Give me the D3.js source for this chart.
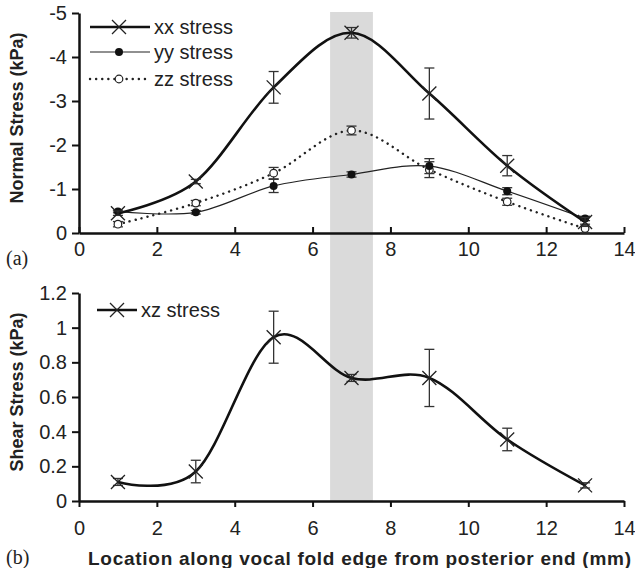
<!DOCTYPE html>
<html>
<head>
<meta charset="utf-8">
<script src="https://cdn.jsdelivr.net/npm/d3@7"></script>
<style>
  html, body { margin: 0; padding: 0; background: #fff; }
  svg { display: block; }
</style>
</head>
<body>
<svg id="chart" width="635" height="568"></svg>
<script>
// ---- Data ----
const positions = [1, 3, 5, 7, 9, 11, 13];
const xxStress = [-0.45, -1.17, -3.31, -4.55, -3.17, -1.53, -0.25];
const xxErr    = [0.05, 0.05, 0.36, 0.12, 0.58, 0.23, 0.10];
const yyStress = [-0.49, -0.47, -1.07, -1.33, -1.52, -0.95, -0.33];
const yyErr    = [0.03, 0.04, 0.15, 0.06, 0.17, 0.08, 0.05];
const zzStress = [-0.20, -0.68, -1.36, -2.33, -1.44, -0.71, -0.10];
const zzErr    = [0.06, 0.06, 0.13, 0.10, 0.18, 0.08, 0.10];
const xzStress = [0.11, 0.17, 0.945, 0.71, 0.71, 0.355, 0.09];
const xzErr    = [0.02, 0.065, 0.15, 0.02, 0.165, 0.065, 0.015];
const xTicks = [0, 2, 4, 6, 8, 10, 12, 14];
const normalTicks = [0, -1, -2, -3, -4, -5];
const shearTicks = [0, 0.2, 0.4, 0.6, 0.8, 1, 1.2];
const shearTickLabels = ["0", "0.2", "0.4", "0.6", "0.8", "1", "1.2"];
const bandRange = [6.45, 7.55];
const legendTop = ["xx stress", "yy stress", "zz stress"];
const legendBottom = ["xz stress"];

const svg = d3.select("#chart");
const FONT = "'Liberation Sans', Arial, Helvetica, sans-serif";

const x = d3.scaleLinear().domain([0, 14]).range([79, 624]);
const yTop = d3.scaleLinear().domain([0, -5]).range([233, 13]);
const yBot = d3.scaleLinear().domain([0, 1.2]).range([501, 293]);

// shaded band
svg.append("rect")
  .attr("x", x(bandRange[0])).attr("y", 12)
  .attr("width", x(bandRange[1]) - x(bandRange[0]))
  .attr("height", 501 - 12)
  .attr("fill", "#dadada");

const curve = d3.curveCardinal.tension(0);

function styleAxis(g) {
  g.select(".domain").attr("stroke", "#111").attr("stroke-width", 2.5);
  g.selectAll(".tick line").attr("stroke", "#111").attr("stroke-width", 2);
  g.selectAll(".tick text").attr("fill", "#222")
    .style("font-family", FONT).style("font-size", "20px");
}

// ---- Top panel axes ----
svg.append("g").attr("transform", "translate(0,233)")
  .call(d3.axisBottom(x).tickValues(xTicks).tickFormat(d => String(d))
    .tickSizeInner(-6).tickSizeOuter(0).tickPadding(9))
  .call(styleAxis);
svg.append("g").attr("transform", "translate(79,0)")
  .call(d3.axisLeft(yTop).tickValues(normalTicks).tickFormat(d => String(d))
    .tickSize(7).tickSizeOuter(0).tickPadding(5))
  .call(styleAxis);

// ---- Bottom panel axes ----
svg.append("g").attr("transform", "translate(0,501)")
  .call(d3.axisBottom(x).tickValues(xTicks).tickFormat(d => String(d))
    .tickSizeInner(6).tickSizeOuter(0).tickPadding(14))
  .call(styleAxis);
svg.append("g").attr("transform", "translate(79,0)")
  .call(d3.axisLeft(yBot).tickValues(shearTicks).tickFormat((d, i) => shearTickLabels[i])
    .tickSize(7).tickSizeOuter(0).tickPadding(5))
  .call(styleAxis);

// ---- series helper ----
function series(vals, errs, yScale, opts) {
  const pts = positions.map((p, i) => ({ x: p, y: vals[i], e: errs[i] }));
  const g = svg.append("g");
  g.append("path").datum(pts)
    .attr("d", d3.line().x(d => x(d.x)).y(d => yScale(d.y)).curve(curve))
    .attr("fill", "none").attr("stroke", opts.stroke)
    .attr("stroke-width", opts.width)
    .attr("stroke-dasharray", opts.dash || null)
    .attr("stroke-linecap", opts.dash ? "round" : "butt");
  const eb = g.selectAll(".eb").data(pts).enter().append("g");
  eb.append("line")
    .attr("x1", d => x(d.x)).attr("x2", d => x(d.x))
    .attr("y1", d => yScale(d.y - d.e)).attr("y2", d => yScale(d.y + d.e));
  eb.append("line")
    .attr("x1", d => x(d.x) - 5).attr("x2", d => x(d.x) + 5)
    .attr("y1", d => yScale(d.y - d.e)).attr("y2", d => yScale(d.y - d.e));
  eb.append("line")
    .attr("x1", d => x(d.x) - 5).attr("x2", d => x(d.x) + 5)
    .attr("y1", d => yScale(d.y + d.e)).attr("y2", d => yScale(d.y + d.e));
  eb.selectAll("line").attr("stroke", "#333").attr("stroke-width", 1.3);
  pts.forEach(d => drawMarker(g, opts.marker, x(d.x), yScale(d.y)));
}

function drawMarker(g, type, cx, cy) {
  if (type === "x") {
    g.append("path")
      .attr("d", `M${cx-7},${cy-7}L${cx+7},${cy+7}M${cx-7},${cy+7}L${cx+7},${cy-7}`)
      .attr("stroke", "#222").attr("stroke-width", 1.3).attr("fill", "none");
  } else if (type === "dot") {
    g.append("circle").attr("cx", cx).attr("cy", cy).attr("r", 4)
      .attr("fill", "#111");
  } else if (type === "ring") {
    g.append("circle").attr("cx", cx).attr("cy", cy).attr("r", 3.8)
      .attr("fill", "#fff").attr("stroke", "#222").attr("stroke-width", 1.2);
  }
}

const styles = {
  xx: { stroke: "#111", width: 2.6, marker: "x" },
  yy: { stroke: "#222", width: 1.2, marker: "dot" },
  zz: { stroke: "#222", width: 2.4, marker: "ring", dash: "0.1,6" },
  xz: { stroke: "#111", width: 2.6, marker: "x" }
};

series(zzStress, zzErr, yTop, styles.zz);
series(yyStress, yyErr, yTop, styles.yy);
series(xxStress, xxErr, yTop, styles.xx);
series(xzStress, xzErr, yBot, styles.xz);

// ---- legends ----
function legendItem(label, st, x1, x2, mx, ty, tx) {
  const g = svg.append("g");
  g.append("line").attr("x1", x1).attr("x2", x2).attr("y1", ty).attr("y2", ty)
    .attr("stroke", st.stroke).attr("stroke-width", st.width)
    .attr("stroke-dasharray", st.dash || null)
    .attr("stroke-linecap", st.dash ? "round" : "butt");
  drawMarker(g, st.marker, mx, ty);
  g.append("text").attr("x", tx).attr("y", ty).attr("dy", "0.35em")
    .style("font-family", FONT).style("font-size", "20px").attr("fill", "#222")
    .text(label);
}
legendItem(legendTop[0], styles.xx, 90, 150, 119, 27, 154);
legendItem(legendTop[1], styles.yy, 90, 150, 119, 52, 154);
legendItem(legendTop[2], styles.zz, 90, 150, 119, 79, 154);
legendItem(legendBottom[0], styles.xz, 97, 137, 117, 310, 141);

// ---- axis titles ----
svg.append("text")
  .attr("transform", "translate(17,118) rotate(-90)")
  .attr("text-anchor", "middle").attr("dy", "0.35em")
  .style("font-family", FONT).style("font-size", "18px").style("font-weight", "bold")
  .attr("fill", "#222").text("Normal Stress (kPa)");
svg.append("text")
  .attr("transform", "translate(17,392) rotate(-90)")
  .attr("text-anchor", "middle").attr("dy", "0.35em")
  .style("font-family", FONT).style("font-size", "18px").style("font-weight", "bold")
  .attr("fill", "#222").text("Shear Stress (kPa)");
svg.append("text")
  .attr("x", 88).attr("y", 565)
  .attr("textLength", 543).attr("lengthAdjust", "spacing")
  .style("font-family", FONT).style("font-size", "19px").style("font-weight", "bold")
  .attr("fill", "#222").text("Location along vocal fold edge from posterior end (mm)");

// panel labels
svg.append("text").attr("x", 6).attr("y", 265)
  .style("font-family", "'Liberation Serif', 'Times New Roman', serif").style("font-size", "20px")
  .attr("fill", "#222").text("(a)");
svg.append("text").attr("x", 6).attr("y", 564)
  .style("font-family", "'Liberation Serif', 'Times New Roman', serif").style("font-size", "20px")
  .attr("fill", "#222").text("(b)");
</script>
</body>
</html>
